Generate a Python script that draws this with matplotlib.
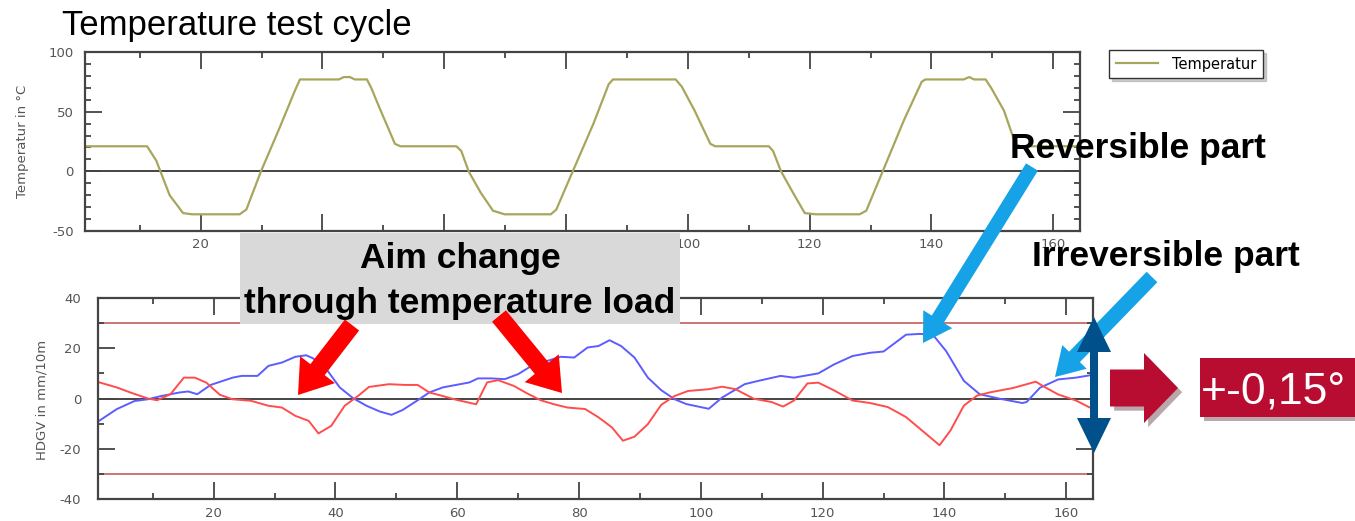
import matplotlib.pyplot as plt
import matplotlib.patheffects as pe
from matplotlib.patches import FancyArrow, Rectangle
from matplotlib.transforms import Affine2D
from matplotlib.ticker import MultipleLocator

plt.rcParams['axes.unicode_minus'] = False

# Temperature cycle (top chart)
temp_t = [1, 11.2, 12.7, 14.9, 17.1, 18.6, 26.4, 27.5, 29.9, 33, 35.5, 36.3,
          42.7, 43.5, 44.5, 45.3, 47.3, 48.0, 49.3, 51.9, 52.8, 62, 62.8, 64,
          66, 68, 69.9, 77.5, 78.4, 81.1, 84.5, 87, 87.7, 98, 99, 101.1,
          103.7, 104.5, 113.3, 114, 115.3, 117.5, 119.2, 121, 128.2, 129.3, 132, 135.5,
          138.4, 139, 145.3, 146.2, 147, 148.9, 149.8, 151.9, 153.8, 154.6, 164.3]
temp_v = [21, 21, 9, -20, -35, -36, -36, -32, 0, 37, 68, 77,
          77, 79, 79, 77, 77, 70, 54, 23, 21, 21, 17, 0,
          -18, -33, -36, -36, -32, 0, 40, 73, 77, 77, 71, 51,
          23, 21, 21, 17, 0, -20, -35, -36, -36, -33, 0, 43,
          75, 77, 77, 79, 77, 77, 70, 51, 23, 21, 21]

# top chart x labels (40-80 are hidden behind the grey box in the original)
top_xticks = [20, 40, 60, 80, 100, 120, 140, 160]
top_xlabels = ['20', '', '', '', '100', '120', '140', '160']

# HDGV (bottom chart), blue and red channel
blue_t = [0.8, 4.1, 7, 9.2, 11.4, 14.4, 15.8, 17.3, 19.5, 23.1,
          24.6, 27.2, 29, 31.2, 33.4, 35.2, 36.3, 38.5, 40.7, 42.9,
          45.1, 47.3, 49.2, 51, 53.5, 55.4, 57.6, 59.8, 62, 63.4,
          65.6, 67.8, 70, 72.2, 74.4, 77, 79.2, 81.4, 83.2, 85,
          86.9, 89.1, 91.3, 93.5, 95.7, 97.6, 101.3, 103.5, 107.2, 109.4,
          113.1, 115.3, 119.3, 121.9, 124.9, 127.8, 130, 133.7, 135.9, 138.1,
          140.3, 143.2, 145.8, 149.1, 152.8, 153.5, 155.7, 158.7, 161.6, 163.8]
blue_v = [-9.5, -4.2, -1, -0.3, 1, 2.4, 2.8, 1.7, 5.4, 8.3,
          9, 9, 13, 14.3, 16.6, 17.2, 16, 11.7, 4.4, 0.1,
          -2.9, -5.2, -6.5, -4.6, -0.7, 2.4, 4.4, 5.4, 6.4, 8,
          8, 7.7, 9.7, 13, 14.7, 16.6, 16.3, 20.3, 20.9, 23.2,
          20.9, 16.3, 8.3, 3.3, -0.3, -2.2, -4.1, 0.4, 5.7, 7,
          9, 8.3, 10, 13.6, 16.9, 18.2, 18.7, 25.4, 25.7, 25.4,
          18.8, 7, 1.7, -0.1, -1.8, -1.4, 4.3, 7.6, 8.3, 9.2]

red_t = [0.8, 4.1, 6.3, 9.2, 10.7, 12.9, 15.1, 16.9, 18.8, 21,
         23.1, 26.1, 29, 31.2, 33.4, 35.6, 37.2, 39.3, 41.5, 43.7,
         45.5, 48.8, 51.4, 53.5, 55.4, 57.6, 59.8, 63.1, 64.9, 66.7,
         69.3, 71.5, 73.7, 75.9, 78.1, 81, 83.2, 85.4, 87.2, 89.1,
         91.3, 93.5, 95.7, 97.9, 101.3, 103.5, 105.7, 108.7, 111.6, 113.5,
         115.3, 117.5, 119.3, 121.9, 124.9, 127.8, 130.7, 133.7, 136.6, 139.2,
         141, 143.2, 145.4, 147.6, 151.3, 155, 156.5, 158.7, 161.6, 163.8]
red_v = [6.7, 4.4, 2.4, 0, -0.7, 1.7, 8.3, 8.3, 6.3, 1.5,
         -0.3, -0.9, -2.9, -3.6, -6.9, -8.9, -13.9, -10.9, -2.9, 1,
         4.6, 5.7, 5.4, 5.4, 2.4, 1, -0.5, -2.3, 6.4, 7.3,
         5, 2, -0.7, -2.3, -3.6, -4.2, -7.5, -11.5, -16.8, -15.2,
         -10.2, -2.5, 1, 3, 3.7, 4.7, 3.7, -0.1, -1.4, -3.2,
         -0.8, 6, 6.3, 3.2, -0.8, -1.8, -3.4, -7.4, -13.3, -18.6,
         -12.7, -2.8, 1.2, 2.5, 4.2, 6.7, 4.5, 1.6, -0.8, -3.5]

limit = 30

W, H = 1355, 521
fig = plt.figure(figsize=(W / 100, H / 100), dpi=100)

# pixel coordinates from the top-left corner
px = Affine2D().scale(1 / 100, -1 / 100).translate(0, H / 100) + fig.dpi_scale_trans


def box(l, t, r, b):
    # pixel box (from top-left) -> figure fraction
    return [l / W, 1 - b / H, (r - l) / W, (b - t) / H]


def style(ax, ylim, ymajor, ypad, xpad):
    ax.set_xlim(1.0, 164.4)
    ax.set_ylim(*ylim)
    ax.xaxis.set_major_locator(MultipleLocator(20))
    ax.xaxis.set_minor_locator(MultipleLocator(10))
    ax.yaxis.set_major_locator(MultipleLocator(ymajor))
    ax.yaxis.set_minor_locator(MultipleLocator(10))
    ax.tick_params(which='both', direction='in', top=True, right=True,
                   color='#444444', labelcolor='#555555', labelsize=9.5)
    ax.tick_params(which='major', length=12, width=1.3)
    ax.tick_params(which='minor', length=4, width=1.3)
    ax.tick_params(axis='y', which='major', pad=ypad)
    ax.tick_params(axis='x', which='major', pad=xpad)
    for s in ax.spines.values():
        s.set_color('#444444')
        s.set_linewidth(1.6)
    ax.axhline(0, color='#444444', lw=1.4, zorder=1)


ax1 = fig.add_axes(box(85, 52, 1080, 231))
ax2 = fig.add_axes(box(98, 298, 1093, 499))

style(ax1, (-50, 100), 50, 8, 5)
style(ax2, (-40, 40), 20, 12, 6)
ax1.set_xticks(top_xticks, top_xlabels)

line, = ax1.plot(temp_t, temp_v, color='#a8a65c', lw=1.6, zorder=2)
ax1.legend([line], ['Temperatur'], loc='upper left',
           bbox_to_anchor=(1109 / W, 1 - 50 / H), bbox_transform=fig.transFigure,
           borderaxespad=0, fancybox=False, framealpha=1, edgecolor='#333333',
           shadow={'color': '#aaaaaa', 'alpha': 0.6},
           handlelength=2.9, handletextpad=1.0, borderpad=0.45,
           prop={'family': 'DejaVu Sans', 'size': 10.5})

ax2.axhline(limit, color='#c0504d', lw=1.1, zorder=1)
ax2.axhline(-limit, color='#c0504d', lw=1.1, zorder=1)
ax2.plot(blue_t, blue_v, color='#5c5cff', lw=1.4, zorder=2)
ax2.plot(red_t, red_v, color='#ff4d4d', lw=1.4, zorder=2)

# axis titles
lab = dict(rotation=90, ha='center', va='center', color='#555555',
           fontsize=9.5, family='DejaVu Sans')
fig.text(23, 141, 'Temperatur in °C', transform=px, **lab)
fig.text(42, 400, 'HDGV in mm/10m', transform=px, **lab)

fig.text(62, 35, 'Temperature test cycle', transform=px, fontsize=25,
         family=['Liberation Sans', 'DejaVu Sans'], va='baseline')


def arrow(x0, y0, x1, y1, w, hw, hl, color, shadow=False, z=5):
    a = FancyArrow(x0, y0, x1 - x0, y1 - y0, width=w, head_width=hw,
                   head_length=hl, length_includes_head=True, color=color,
                   lw=0, transform=px, zorder=z)
    if shadow:
        a.set_path_effects([pe.SimplePatchShadow(offset=(3, -3), alpha=0.35),
                            pe.Normal()])
    fig.add_artist(a)


bold = dict(fontsize=25.5, fontweight='bold', family=['Liberation Sans', 'DejaVu Sans'],
            color='black', va='baseline', zorder=6)

# grey label box
fig.add_artist(Rectangle((240, 233), 440, 91, transform=px, color='#d9d9d9', lw=0, zorder=3))
fig.text(460, 268, 'Aim change', transform=px, ha='center', **bold)
fig.text(460, 313, 'through temperature load', transform=px, ha='center', **bold)

arrow(352, 325, 298, 395, 18, 44, 32, '#ff0000')
arrow(499, 316, 562, 393, 18, 44, 32, '#ff0000', z=7)

fig.text(1010, 158, 'Reversible part', transform=px, ha='left', **bold)
fig.text(1032, 266, 'Irreversible part', transform=px, ha='left', **bold)
arrow(1032, 167, 923, 343, 14, 34, 28, '#16a2e6')
arrow(1152, 277, 1055, 377, 15, 34, 28, '#16a2e6')

# double arrow for the tolerance band
arrow(1094, 385, 1094, 317, 8, 34, 35, '#00518b')
arrow(1094, 385, 1094, 453, 8, 34, 35, '#00518b')

arrow(1110, 388, 1178, 388, 37, 70, 34, '#b80c30', shadow=True)
r = Rectangle((1200, 358), 160, 59, transform=px, color='#b80c30', lw=0, zorder=5)
r.set_path_effects([pe.SimplePatchShadow(offset=(3, -3), alpha=0.35), pe.Normal()])
fig.add_artist(r)
fig.text(1201, 405, '+-0,15°', transform=px, fontsize=32, color='white',
         family=['Liberation Sans', 'DejaVu Sans'], va='baseline', zorder=6)

fig.savefig('out.png', dpi=100)
